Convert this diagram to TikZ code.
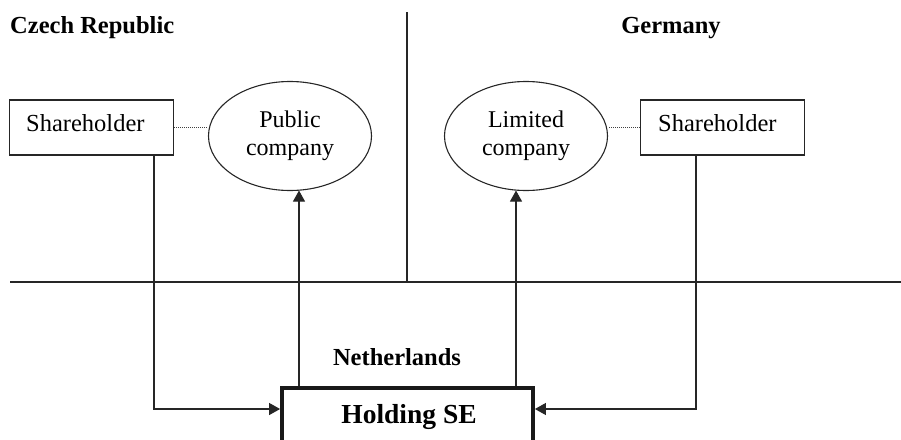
\documentclass[tikz,border=0pt]{standalone}
\usepackage{fontspec}
\setmainfont{Liberation Serif}
\usetikzlibrary{shapes.geometric,arrows.meta}
\begin{document}
\begin{tikzpicture}[x=1pt,y=-1pt,
  thinline/.style={line width=1.1pt,draw=black!85},
  arr/.style={thinline,-{Triangle[length=11pt,width=12pt]}},
  shbox/.style={draw=black!85,line width=1.1pt,rectangle,minimum width=164pt,minimum height=55pt,inner sep=0pt},
  corp/.style={draw=black!85,line width=1.1pt,ellipse,minimum width=163pt,minimum height=109pt,inner sep=0pt,align=center,font=\fontsize{24}{28}\selectfont},
  label/.style={inner sep=0pt,font=\fontsize{24.5}{28}\selectfont},
  country/.style={inner sep=0pt,font=\bfseries\fontsize{24.5}{28}\selectfont},
  holdbox/.style={draw=black!90,line width=3.8pt,rectangle,minimum width=251pt,minimum height=58pt,inner sep=0pt},
  link/.style={line width=1pt,draw=black!75,densely dotted}]
\useasboundingbox (0,0) rectangle (901,439);

% borders between the three countries
\coordinate (hlL) at (10,282);
\coordinate (hlR) at (901,282);
\coordinate (vtop) at (407,12);
\draw[thinline] (hlL) -- (hlR);
\draw[thinline] (vtop) -- (vtop |- hlL);

% country names
\node[country,anchor=base west] (cz) at (10,33) {Czech Republic};
\node[country,anchor=base] (de) at (671,33) {Germany};
\node[country,anchor=base] (nl) at (397,365) {Netherlands};

% Czech side
\node[shbox] (shL) at (91.5,127.5) {};
\node[label,anchor=base west] (shLt) at (26,131) {Shareholder};
\node[corp] (pub) at (290,136) {Public\\company};

% German side
\node[shbox] (shR) at (722.5,127.5) {};
\node[label,anchor=base west] (shRt) at (658,131) {Shareholder};
\node[corp] (ltd) at (526,136) {Limited\\company};

% the holding company
\node[holdbox] (hold) at (407.5,417) {};
\node[inner sep=0pt,font=\bfseries\fontsize{27.5}{30}\selectfont,anchor=base] (holdt) at (409,423) {Holding SE};

% shareholder -- company links
\draw[link] (shL.east) -- (shL.east -| pub.west);
\draw[link] (shR.west) -- (shR.west -| ltd.east);

% share flows
\coordinate (dnL) at (154,409);
\coordinate (dnR) at (696,409);
\coordinate (upL) at (299,0);
\coordinate (upR) at (516,0);
\draw[arr] (dnL |- shL.south) -- (dnL) -- (dnL -| hold.west);
\draw[arr] (dnR |- shR.south) -- (dnR) -- (dnR -| hold.east);
\draw[arr] (upL |- hold.north) -- ([yshift=0.5pt]upL |- pub.south);
\draw[arr] (upR |- hold.north) -- ([yshift=0.5pt]upR |- ltd.south);
\end{tikzpicture}
\end{document}
